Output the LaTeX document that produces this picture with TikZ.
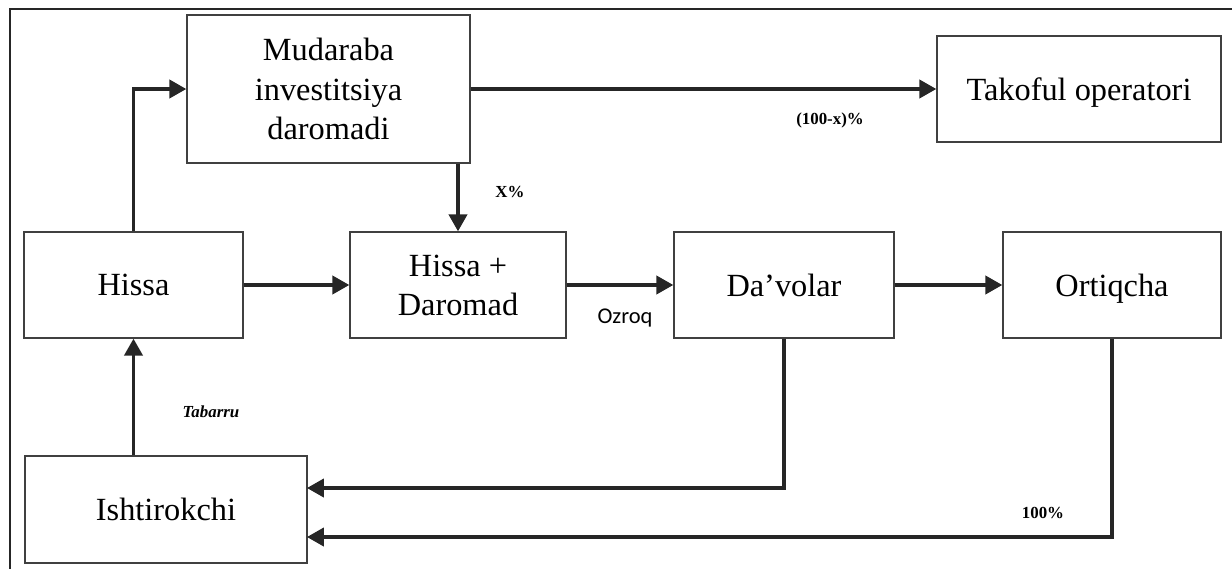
\documentclass[tikz,border=0pt]{standalone}
\usepackage{fontspec}
\setmainfont{Liberation Serif}
\newfontfamily\ozroqfont{Carlito}
\usetikzlibrary{arrows.meta}
\tikzset{
    flow-box/.style = {
        draw = black!75, line width = 1pt, fill = white,
        align = center, inner sep = 0pt,
        font = \fontsize{23}{28}\selectfont,
        text depth = -3.5pt
    },
    flow-arrow/.style = {
        line width = 2.2pt, draw = black!85,
        -{Triangle[length = 12pt, width = 13pt]}
    },
    flow-label/.style = {font = \fontsize{12}{14}\selectfont\bfseries}
}

\begin{document}
\begin{tikzpicture}[x = 0.025cm, y = -0.025cm]
    \useasboundingbox (0, 0) rectangle (1232, 568);
    \draw [line width = 2pt, black!85] (10, 590) -- (10, 9) -- (1250, 9);

    % boxes
    \node [flow-box, minimum width = 7.075cm, minimum height = 3.7cm] (mudaraba) at (328.5, 89) {Mudaraba\\investitsiya\\daromadi};
    \node [flow-box, minimum width = 7.1cm, minimum height = 2.65cm] (takoful) at (1079, 89) {Takoful operatori};
    \node [flow-box, minimum width = 5.475cm, minimum height = 2.65cm] (hissa) at (133.5, 285) {Hissa};
    \node [flow-box, minimum width = 5.4cm, minimum height = 2.65cm] (daromad) at (458, 285) {Hissa +\\Daromad};
    \node [flow-box, minimum width = 5.5cm, minimum height = 2.65cm] (davolar) at (784, 285) {Da’volar};
    \node [flow-box, minimum width = 5.45cm, minimum height = 2.65cm] (ortiqcha) at (1112, 285) {Ortiqcha};
    \node [flow-box, minimum width = 7.05cm, minimum height = 2.675cm] (ishtirokchi) at (166, 509.5) {Ishtirokchi};

    \coordinate (back-davolar) at (307, 488);
    \coordinate (back-ortiqcha) at (307, 537);

    % arrows
    \draw [flow-arrow] (hissa.north) |- (mudaraba.west);
    \draw [flow-arrow] (mudaraba.east) -- (takoful.west);
    \draw [flow-arrow] (mudaraba.south -| daromad.north) -- (daromad.north);
    \draw [flow-arrow] (hissa.east) -- (daromad.west);
    \draw [flow-arrow] (daromad.east) -- (davolar.west);
    \draw [flow-arrow] (davolar.east) -- (ortiqcha.west);
    \draw [flow-arrow] (ishtirokchi.north -| hissa.south) -- (hissa.south);
    \draw [flow-arrow] (davolar.south) |- (back-davolar);
    \draw [flow-arrow] (ortiqcha.south) |- (back-ortiqcha);

    % labels
    \node [flow-label] (share-takoful) at (830, 120) {(100-x)\%};
    \node [flow-label] (share-x) at (510, 192) {X\%};
    \node [font = \ozroqfont\fontsize{16}{19}\selectfont] (ozroq) at (625, 318) {Ozroq};
    \node [flow-label, font = \fontsize{12}{14}\selectfont\bfseries\itshape] (tabarru) at (211, 412) {Tabarru};
    \node [flow-label] (share-all) at (1043, 513) {100\%};
\end{tikzpicture}
\end{document}
